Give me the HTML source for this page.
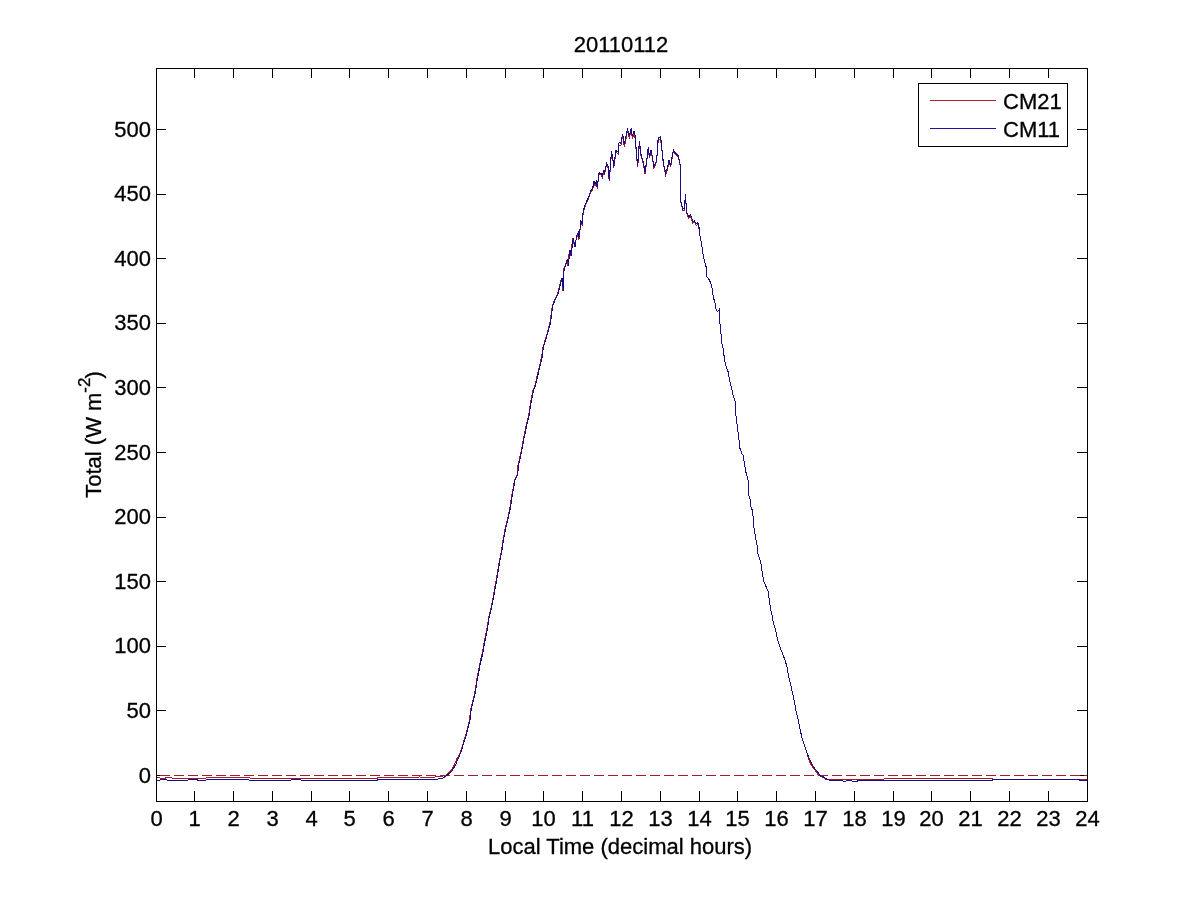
<!DOCTYPE html><html><head><meta charset="utf-8"><style>html,body{margin:0;padding:0;background:#fff;}svg{display:block;will-change:transform;}text{font-family:"Liberation Sans",sans-serif;fill:#000;}</style></head><body>
<svg width="1201" height="900" viewBox="0 0 1201 900">
<rect x="0" y="0" width="1201" height="900" fill="#fff"/>
<rect x="156.5" y="68.5" width="931" height="733" fill="none" stroke="#000" stroke-width="1" shape-rendering="crispEdges"/>
<path d="M194.5 801v-10M194.5 69v9M233.5 801v-10M233.5 69v9M272.5 801v-10M272.5 69v9M311.5 801v-10M311.5 69v9M349.5 801v-10M349.5 69v9M388.5 801v-10M388.5 69v9M427.5 801v-10M427.5 69v9M466.5 801v-10M466.5 69v9M505.5 801v-10M505.5 69v9M543.5 801v-10M543.5 69v9M582.5 801v-10M582.5 69v9M621.5 801v-10M621.5 69v9M660.5 801v-10M660.5 69v9M699.5 801v-10M699.5 69v9M737.5 801v-10M737.5 69v9M776.5 801v-10M776.5 69v9M815.5 801v-10M815.5 69v9M854.5 801v-10M854.5 69v9M893.5 801v-10M893.5 69v9M931.5 801v-10M931.5 69v9M970.5 801v-10M970.5 69v9M1009.5 801v-10M1009.5 69v9M1048.5 801v-10M1048.5 69v9M157 775.5h9M1087 775.5h-10M157 710.5h9M1087 710.5h-10M157 646.5h9M1087 646.5h-10M157 581.5h9M1087 581.5h-10M157 517.5h9M1087 517.5h-10M157 452.5h9M1087 452.5h-10M157 387.5h9M1087 387.5h-10M157 323.5h9M1087 323.5h-10M157 258.5h9M1087 258.5h-10M157 194.5h9M1087 194.5h-10M157 129.5h9M1087 129.5h-10" stroke="#000" stroke-width="1" fill="none" shape-rendering="crispEdges"/>
<defs><clipPath id="ax"><rect x="157" y="69" width="930" height="732"/></clipPath></defs>
<g clip-path="url(#ax)">
<line x1="156" y1="775.5" x2="1087" y2="775.5" stroke="#a41c2c" stroke-width="1" stroke-dasharray="10,4" stroke-dashoffset="10" shape-rendering="crispEdges"/>
<path d="M156.0,777.5 164.0,778.5 167.0,777.5 177.0,778.5 200.0,778.5 212.0,777.5 248.0,777.5 252.0,778.5 300.0,778.5 330.0,778.5 375.0,778.5 380.0,777.5 420.0,777.0 430.0,777.5 440.0,776.5 445.8,775.5 450.8,771.0 453.8,766.0 456.8,759.0 460.5,752.0 463.5,742.0 465.5,736.0 467.5,728.0 469.5,720.0 470.6,710.0 472.8,701.1 475.1,691.1 476.7,680.0 478.4,671.1 480.1,662.2 482.3,653.3 483.9,643.3 485.6,635.6 487.3,626.7 488.4,618.9 490.6,610.0 492.8,598.9 494.5,588.9 496.2,580.0 497.8,570.0 499.5,560.0 501.2,552.2 502.8,541.1 505.1,528.9 507.8,517.8 510.1,506.7 511.7,495.6 513.4,486.7 514.5,480.0 517.3,474.4 517.8,465.6 519.5,458.9 521.2,451.1 523.4,438.9 526.2,425.6 528.4,416.7 530.1,405.6 531.7,396.7 532.8,391.1 534.5,386.7 536.2,380.0 537.8,373.3 540.1,363.3 541.7,356.7 542.8,347.8 545.1,340.0 547.8,331.1 550.1,322.2 551.2,313.3 552.3,305.6 554.5,300.0 557.3,294.4 558.9,288.9 560.1,283.3 561.7,277.8 562.8,290.6 563.4,272.2 563.9,268.9 567.3,258.9 567.8,265.6 569.5,250.0 570.6,255.6 572.8,237.8 574.5,246.7 576.7,237.1 578.3,233.7 578.9,239.8 580.0,230.4 580.6,221.5 582.2,225.9 582.8,215.9 584.4,208.2 586.7,202.6 588.3,199.3 590.6,192.6 592.8,189.3 593.9,182.6 595.0,185.8 596.3,183.2 597.2,188.5 599.0,174.3 601.2,175.2 602.6,177.8 603.4,171.6 604.3,175.2 606.6,164.5 608.3,168.1 609.2,181.4 610.6,164.5 611.4,152.9 612.8,159.2 613.7,168.1 615.9,152.1 618.1,153.8 619.0,145.1 620.8,145.9 622.6,136.2 624.3,146.8 626.6,136.2 627.4,130.8 629.2,137.9 631.4,130.8 632.3,138.8 634.1,133.5 635.4,139.7 636.3,153.8 637.7,167.2 639.4,143.3 640.8,154.7 643.3,163.7 645.0,173.7 647.2,158.2 648.3,148.2 649.4,158.2 651.1,151.5 652.2,157.1 653.9,168.2 655.0,165.9 656.7,161.5 657.8,143.6 658.9,140.3 660.6,139.2 661.7,148.2 663.3,163.7 665.6,174.8 667.8,168.2 668.9,161.5 670.6,167.1 673.3,151.5 675.6,154.8 678.3,157.1 680.0,164.8 680.6,201.5 682.8,210.5 684.4,210.4 685.4,195.5 686.7,213.7 688.9,218.2 690.6,216.5 692.8,223.2 694.4,222.1 696.1,225.4 697.8,224.3 698.9,228.2 700.0,235.6 701.7,244.4 702.8,253.3 704.4,261.1 706.1,266.7 706.7,276.7 709.4,280.0 711.7,285.6 712.8,293.3 713.3,296.7 715.0,303.3 716.1,310.0 717.6,311.7 719.1,309.8 719.8,322.2 721.1,334.4 722.0,344.4 723.3,348.9 724.4,358.9 726.1,366.7 728.3,372.2 729.4,380.0 731.7,388.9 733.3,396.7 735.0,400.6 735.6,412.2 736.7,421.1 737.8,431.1 738.9,437.8 739.4,446.7 741.7,453.3 743.3,455.6 744.4,463.3 745.6,471.1 747.2,476.7 748.3,481.1 748.7,495.6 750.0,498.9 751.1,507.8 752.8,511.1 753.3,523.3 754.4,530.0 755.6,537.8 757.2,545.6 757.8,553.3 760.0,560.0 761.1,564.4 762.2,572.2 763.9,581.7 766.1,586.7 768.3,591.7 769.4,601.1 770.6,608.9 772.2,615.6 773.3,623.3 775.6,630.0 777.2,637.8 779.4,645.6 781.1,650.0 782.8,654.4 785.0,660.0 787.2,667.8 788.9,677.8 791.1,686.7 792.8,694.4 794.4,702.2 796.1,711.1 798.3,720.0 800.0,728.9 801.7,736.7 803.7,743.3 805.7,748.7 807.7,754.7 808.5,759.3 811.1,764.7 813.8,768.7 816.5,772.0 818.5,775.3 821.8,776.7 825.8,779.3 830.0,779.5 880.0,779.5 889.0,778.5 990.0,778.5 995.0,779.5 1079.0,779.5 1080.0,779.5 1087.0,779.5" fill="none" stroke="#a41c2c" stroke-width="1" shape-rendering="crispEdges"/>
<path d="M156.0,780.5 164.0,779.5 170.0,780.5 182.0,780.5 195.0,779.5 200.0,780.5 212.0,779.5 248.0,779.5 250.0,780.5 290.0,780.5 292.0,779.5 300.0,779.5 302.0,780.5 375.0,780.5 380.0,779.5 420.0,779.5 435.0,779.5 442.0,778.5 447.0,775.5 452.0,771.0 455.0,766.0 458.0,759.0 461.0,752.0 464.0,742.0 466.0,736.0 468.0,728.0 470.0,720.0 471.1,710.0 473.3,701.1 475.6,691.1 477.2,680.0 478.9,671.1 480.6,662.2 482.8,653.3 484.4,643.3 486.1,635.6 487.8,626.7 488.9,618.9 491.1,610.0 493.3,598.9 495.0,588.9 496.7,580.0 498.3,570.0 500.0,560.0 501.7,552.2 503.3,541.1 505.6,528.9 508.3,517.8 510.6,506.7 512.2,495.6 513.9,486.7 515.0,480.0 517.8,474.4 518.3,465.6 520.0,458.9 521.7,451.1 523.9,438.9 526.7,425.6 528.9,416.7 530.6,405.6 532.2,396.7 533.3,391.1 535.0,386.7 536.7,380.0 538.3,373.3 540.6,363.3 542.2,356.7 543.3,347.8 545.6,340.0 548.3,331.1 550.6,322.2 551.7,313.3 552.8,305.6 555.0,300.0 557.8,294.4 559.4,288.9 560.6,283.3 562.2,277.8 563.3,290.6 563.9,272.2 564.4,268.9 567.8,258.9 568.3,265.6 570.0,250.0 571.1,255.6 573.3,237.8 575.0,246.7 576.7,235.6 578.3,232.2 578.9,238.3 580.0,228.9 580.6,220.0 582.2,224.4 582.8,214.4 584.4,206.7 586.7,201.1 588.3,197.8 590.6,191.1 592.8,187.8 593.9,181.1 595.0,184.3 596.3,181.7 597.2,187.0 599.0,172.8 601.2,173.7 602.6,176.3 603.4,170.1 604.3,173.7 606.6,163.0 608.3,166.6 609.2,179.9 610.6,163.0 611.4,151.4 612.8,157.7 613.7,166.6 615.9,150.6 618.1,152.3 619.0,142.6 620.8,143.4 622.6,133.7 624.3,144.3 626.6,133.7 627.4,128.3 629.2,135.4 631.4,128.3 632.3,136.3 634.1,131.0 635.4,137.2 636.3,152.3 637.7,165.7 639.4,140.8 640.8,153.2 643.3,162.2 645.0,172.2 647.2,156.7 648.3,146.7 649.4,156.7 651.1,150.0 652.2,155.6 653.9,166.7 655.0,164.4 656.7,160.0 657.8,141.1 658.9,137.8 660.6,136.7 661.7,146.7 663.3,162.2 665.6,173.3 667.8,166.7 668.9,160.0 670.6,165.6 673.3,150.0 675.6,153.3 678.3,155.6 680.0,163.3 680.6,200.0 682.8,209.0 684.4,208.9 685.4,194.0 686.7,212.2 688.9,216.7 690.6,215.0 692.8,221.7 694.4,220.6 696.1,223.9 697.8,222.8 698.9,226.7 700.0,235.6 701.7,244.4 702.8,253.3 704.4,261.1 706.1,266.7 706.7,276.7 709.4,280.0 711.7,285.6 712.8,293.3 713.3,296.7 715.0,303.3 716.1,310.0 717.6,311.7 719.1,309.8 719.8,322.2 721.1,334.4 722.0,344.4 723.3,348.9 724.4,358.9 726.1,366.7 728.3,372.2 729.4,380.0 731.7,388.9 733.3,396.7 735.0,400.6 735.6,412.2 736.7,421.1 737.8,431.1 738.9,437.8 739.4,446.7 741.7,453.3 743.3,455.6 744.4,463.3 745.6,471.1 747.2,476.7 748.3,481.1 748.7,495.6 750.0,498.9 751.1,507.8 752.8,511.1 753.3,523.3 754.4,530.0 755.6,537.8 757.2,545.6 757.8,553.3 760.0,560.0 761.1,564.4 762.2,572.2 763.9,581.7 766.1,586.7 768.3,591.7 769.4,601.1 770.6,608.9 772.2,615.6 773.3,623.3 775.6,630.0 777.2,637.8 779.4,645.6 781.1,650.0 782.8,654.4 785.0,660.0 787.2,667.8 788.9,677.8 791.1,686.7 792.8,694.4 794.4,702.2 796.1,711.1 798.3,720.0 800.0,728.9 801.7,736.7 803.7,743.3 805.7,748.7 807.7,754.7 809.7,759.3 812.3,764.7 815.0,768.7 817.7,772.0 819.7,775.3 823.0,776.7 827.0,779.3 830.0,780.5 842.0,780.5 844.0,781.5 848.0,780.5 855.0,781.5 860.0,780.5 990.0,780.5 995.0,779.5 1079.0,779.5 1080.0,780.5 1087.0,780.5" fill="none" stroke="#180c80" stroke-width="1" shape-rendering="crispEdges"/>
</g>
<g transform="translate(156.50,826.00) scale(1,1.0)"><text x="0" y="0" font-size="22" text-anchor="middle" stroke="#000" stroke-width="0.3">0</text></g>
<g transform="translate(194.50,826.00) scale(1,1.0)"><text x="0" y="0" font-size="22" text-anchor="middle" stroke="#000" stroke-width="0.3">1</text></g>
<g transform="translate(233.50,826.00) scale(1,1.0)"><text x="0" y="0" font-size="22" text-anchor="middle" stroke="#000" stroke-width="0.3">2</text></g>
<g transform="translate(272.50,826.00) scale(1,1.0)"><text x="0" y="0" font-size="22" text-anchor="middle" stroke="#000" stroke-width="0.3">3</text></g>
<g transform="translate(311.50,826.00) scale(1,1.0)"><text x="0" y="0" font-size="22" text-anchor="middle" stroke="#000" stroke-width="0.3">4</text></g>
<g transform="translate(349.50,826.00) scale(1,1.0)"><text x="0" y="0" font-size="22" text-anchor="middle" stroke="#000" stroke-width="0.3">5</text></g>
<g transform="translate(388.50,826.00) scale(1,1.0)"><text x="0" y="0" font-size="22" text-anchor="middle" stroke="#000" stroke-width="0.3">6</text></g>
<g transform="translate(427.50,826.00) scale(1,1.0)"><text x="0" y="0" font-size="22" text-anchor="middle" stroke="#000" stroke-width="0.3">7</text></g>
<g transform="translate(466.50,826.00) scale(1,1.0)"><text x="0" y="0" font-size="22" text-anchor="middle" stroke="#000" stroke-width="0.3">8</text></g>
<g transform="translate(505.50,826.00) scale(1,1.0)"><text x="0" y="0" font-size="22" text-anchor="middle" stroke="#000" stroke-width="0.3">9</text></g>
<g transform="translate(543.50,826.00) scale(1,1.0)"><text x="0" y="0" font-size="22" text-anchor="middle" stroke="#000" stroke-width="0.3">10</text></g>
<g transform="translate(582.50,826.00) scale(1,1.0)"><text x="0" y="0" font-size="22" text-anchor="middle" stroke="#000" stroke-width="0.3">11</text></g>
<g transform="translate(621.50,826.00) scale(1,1.0)"><text x="0" y="0" font-size="22" text-anchor="middle" stroke="#000" stroke-width="0.3">12</text></g>
<g transform="translate(660.50,826.00) scale(1,1.0)"><text x="0" y="0" font-size="22" text-anchor="middle" stroke="#000" stroke-width="0.3">13</text></g>
<g transform="translate(699.50,826.00) scale(1,1.0)"><text x="0" y="0" font-size="22" text-anchor="middle" stroke="#000" stroke-width="0.3">14</text></g>
<g transform="translate(737.50,826.00) scale(1,1.0)"><text x="0" y="0" font-size="22" text-anchor="middle" stroke="#000" stroke-width="0.3">15</text></g>
<g transform="translate(776.50,826.00) scale(1,1.0)"><text x="0" y="0" font-size="22" text-anchor="middle" stroke="#000" stroke-width="0.3">16</text></g>
<g transform="translate(815.50,826.00) scale(1,1.0)"><text x="0" y="0" font-size="22" text-anchor="middle" stroke="#000" stroke-width="0.3">17</text></g>
<g transform="translate(854.50,826.00) scale(1,1.0)"><text x="0" y="0" font-size="22" text-anchor="middle" stroke="#000" stroke-width="0.3">18</text></g>
<g transform="translate(893.50,826.00) scale(1,1.0)"><text x="0" y="0" font-size="22" text-anchor="middle" stroke="#000" stroke-width="0.3">19</text></g>
<g transform="translate(931.50,826.00) scale(1,1.0)"><text x="0" y="0" font-size="22" text-anchor="middle" stroke="#000" stroke-width="0.3">20</text></g>
<g transform="translate(970.50,826.00) scale(1,1.0)"><text x="0" y="0" font-size="22" text-anchor="middle" stroke="#000" stroke-width="0.3">21</text></g>
<g transform="translate(1009.50,826.00) scale(1,1.0)"><text x="0" y="0" font-size="22" text-anchor="middle" stroke="#000" stroke-width="0.3">22</text></g>
<g transform="translate(1048.50,826.00) scale(1,1.0)"><text x="0" y="0" font-size="22" text-anchor="middle" stroke="#000" stroke-width="0.3">23</text></g>
<g transform="translate(1087.50,826.00) scale(1,1.0)"><text x="0" y="0" font-size="22" text-anchor="middle" stroke="#000" stroke-width="0.3">24</text></g>
<g transform="translate(151.00,782.50) scale(1,1.0)"><text x="0" y="0" font-size="22" text-anchor="end" stroke="#000" stroke-width="0.3">0</text></g>
<g transform="translate(151.00,717.90) scale(1,1.0)"><text x="0" y="0" font-size="22" text-anchor="end" stroke="#000" stroke-width="0.3">50</text></g>
<g transform="translate(151.00,653.30) scale(1,1.0)"><text x="0" y="0" font-size="22" text-anchor="end" stroke="#000" stroke-width="0.3">100</text></g>
<g transform="translate(151.00,588.70) scale(1,1.0)"><text x="0" y="0" font-size="22" text-anchor="end" stroke="#000" stroke-width="0.3">150</text></g>
<g transform="translate(151.00,524.10) scale(1,1.0)"><text x="0" y="0" font-size="22" text-anchor="end" stroke="#000" stroke-width="0.3">200</text></g>
<g transform="translate(151.00,459.50) scale(1,1.0)"><text x="0" y="0" font-size="22" text-anchor="end" stroke="#000" stroke-width="0.3">250</text></g>
<g transform="translate(151.00,394.90) scale(1,1.0)"><text x="0" y="0" font-size="22" text-anchor="end" stroke="#000" stroke-width="0.3">300</text></g>
<g transform="translate(151.00,330.30) scale(1,1.0)"><text x="0" y="0" font-size="22" text-anchor="end" stroke="#000" stroke-width="0.3">350</text></g>
<g transform="translate(151.00,265.70) scale(1,1.0)"><text x="0" y="0" font-size="22" text-anchor="end" stroke="#000" stroke-width="0.3">400</text></g>
<g transform="translate(151.00,201.10) scale(1,1.0)"><text x="0" y="0" font-size="22" text-anchor="end" stroke="#000" stroke-width="0.3">450</text></g>
<g transform="translate(151.00,136.50) scale(1,1.0)"><text x="0" y="0" font-size="22" text-anchor="end" stroke="#000" stroke-width="0.3">500</text></g>
<g transform="translate(621.00,52.00) scale(1,1.0)"><text x="0" y="0" font-size="22" text-anchor="middle" stroke="#000" stroke-width="0.3">20110112</text></g>
<g transform="translate(620.00,854.00) scale(1,1.0)"><text x="0" y="0" font-size="22" text-anchor="middle" stroke="#000" stroke-width="0.3">Local Time (decimal hours)</text></g>
<g transform="translate(101,434.5) rotate(-90) scale(1,1.0)"><text x="0" y="0" font-size="22" text-anchor="middle" stroke="#000" stroke-width="0.3">Total (W m<tspan font-size="17" dy="-11.5">-2</tspan><tspan dy="11.5" dx="-1">)</tspan></text></g>
<rect x="918.5" y="83.5" width="149" height="63" fill="#fff" stroke="#000" stroke-width="1" shape-rendering="crispEdges"/>
<line x1="930" y1="100.5" x2="996" y2="100.5" stroke="#b81e2e" stroke-width="1"/>
<line x1="930" y1="128.5" x2="996" y2="128.5" stroke="#1c14a0" stroke-width="1"/>
<g transform="translate(1003.00,109.00) scale(1,1.0)"><text x="0" y="0" font-size="22" text-anchor="start" stroke="#000" stroke-width="0.3">CM21</text></g>
<g transform="translate(1003.00,137.00) scale(1,1.0)"><text x="0" y="0" font-size="22" text-anchor="start" stroke="#000" stroke-width="0.3">CM11</text></g>
</svg></body></html>
